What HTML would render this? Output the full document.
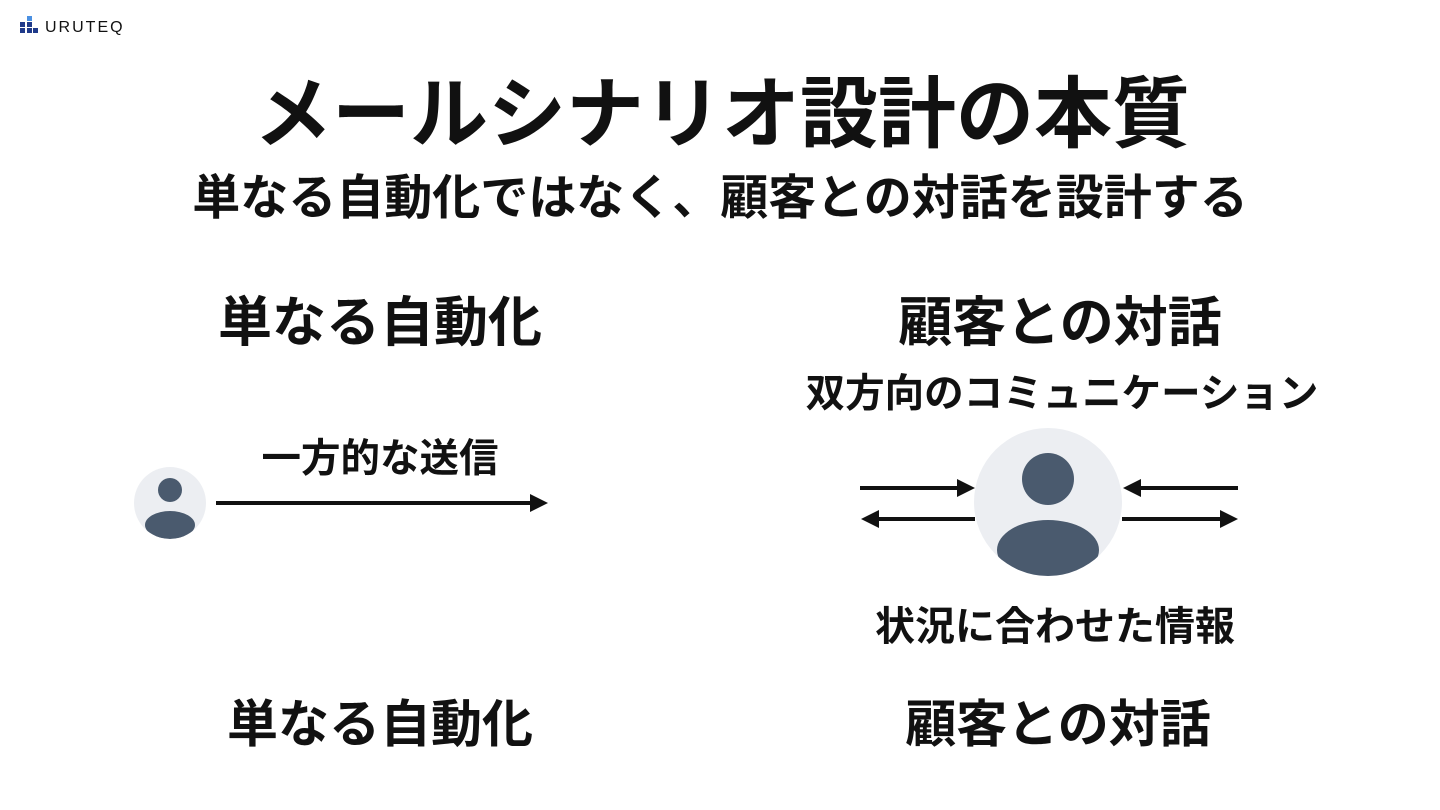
<!DOCTYPE html>
<html><head><meta charset="utf-8"><style>
html,body{margin:0;padding:0;background:#fff;}
svg{display:block;}
text{font-family:"Liberation Sans","Noto Sans CJK JP",sans-serif;font-weight:bold;fill:#111;}
</style></head><body>
<svg width="1440" height="810" viewBox="0 0 1440 810" xmlns="http://www.w3.org/2000/svg">
<defs>
<clipPath id="c1"><circle cx="170" cy="503" r="36"/></clipPath>
<clipPath id="c2"><circle cx="1048" cy="502" r="74"/></clipPath>
</defs>
<rect width="1440" height="810" fill="#fff"/>
<rect x="27" y="16" width="5" height="5" fill="#4a90e2"/>
<rect x="20" y="22" width="5" height="5" fill="#1f3a8a"/>
<rect x="27" y="22" width="5" height="5" fill="#1f3a8a"/>
<rect x="20" y="28" width="5" height="5" fill="#1f3a8a"/>
<rect x="27" y="28" width="5" height="5" fill="#1f3a8a"/>
<rect x="33" y="28" width="5" height="5" fill="#1f3a8a"/>
<text x="45" y="32" font-size="16" style="font-weight:normal;letter-spacing:2px" fill="#222">URUTEQ</text>
<text x="722" y="141" font-size="78" text-anchor="middle">メールシナリオ設計の本質</text>
<text x="720" y="214" font-size="48" text-anchor="middle">単なる自動化ではなく、顧客との対話を設計する</text>
<text x="380" y="341" font-size="54" text-anchor="middle">単なる自動化</text>
<text x="1060" y="341" font-size="54" text-anchor="middle">顧客との対話</text>
<text x="1062" y="407" font-size="39.5" text-anchor="middle">双方向のコミュニケーション</text>
<text x="380" y="472" font-size="39.5" text-anchor="middle">一方的な送信</text>
<text x="1055" y="640" font-size="40" text-anchor="middle">状況に合わせた情報</text>
<text x="380" y="742" font-size="51" text-anchor="middle">単なる自動化</text>
<text x="1058" y="742" font-size="51" text-anchor="middle">顧客との対話</text>
<circle cx="170" cy="503" r="36" fill="#eceef2"/>
<g clip-path="url(#c1)" fill="#4a5a6e">
<circle cx="170" cy="490" r="12"/>
<ellipse cx="170" cy="525" rx="25" ry="14"/>
</g>
<line x1="216" y1="503" x2="532" y2="503" stroke="#111" stroke-width="4"/>
<polygon points="530,494 548,503 530,512" fill="#111"/>
<circle cx="1048" cy="502" r="74" fill="#eceef2"/>
<g clip-path="url(#c2)" fill="#4a5a6e">
<circle cx="1048" cy="479" r="26"/>
<ellipse cx="1048" cy="550" rx="51" ry="30"/>
</g>
<g stroke="#111" stroke-width="4">
<line x1="860" y1="488" x2="960" y2="488"/>
<line x1="876" y1="519" x2="975" y2="519"/>
<line x1="1138" y1="488" x2="1238" y2="488"/>
<line x1="1122" y1="519" x2="1222" y2="519"/>
</g>
<g fill="#111">
<polygon points="957,479 975,488 957,497"/>
<polygon points="879,510 861,519 879,528"/>
<polygon points="1141,479 1123,488 1141,497"/>
<polygon points="1220,510 1238,519 1220,528"/>
</g>
</svg>
</body></html>
